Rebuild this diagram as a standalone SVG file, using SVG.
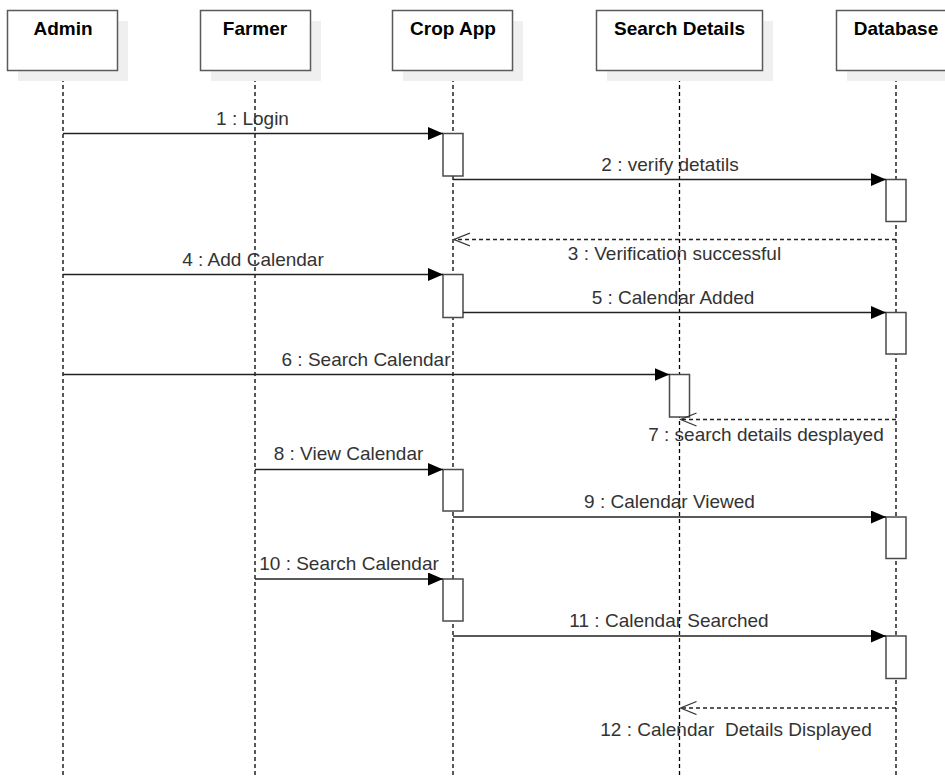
<svg xmlns="http://www.w3.org/2000/svg" width="945" height="778" viewBox="0 0 945 778">
<style>
.shadow{fill:#efefef;stroke:none}
.box{fill:#fff;stroke:#5a5a5a;stroke-width:1.5}
.hdr{font-family:"Liberation Sans",Arial,sans-serif;font-size:19px;font-weight:bold;fill:#000;text-anchor:middle}
.life{stroke:#000;stroke-width:1.3;stroke-dasharray:4 3;fill:none}
.act{fill:#fff;stroke:#4a4a4a;stroke-width:1.5}
.msg{stroke:#222;stroke-width:1.5;fill:none}
.ret{stroke:#222;stroke-width:1.3;stroke-dasharray:4 3;fill:none}
.lbl{font-family:"Liberation Sans",Arial,sans-serif;font-size:19px;fill:#333;text-anchor:middle}
</style>
<defs>
<marker id="block" markerUnits="userSpaceOnUse" markerWidth="16" markerHeight="14" refX="15" refY="6.5" orient="auto">
<path d="M0,0 L15,6.5 L0,13 z" fill="#000"/>
</marker>
<marker id="open" markerUnits="userSpaceOnUse" markerWidth="18" markerHeight="16" refX="16" refY="7" orient="auto">
<path d="M0,0.5 L16,7 L0,13.5" fill="none" stroke="#333" stroke-width="1.3"/>
</marker>
</defs>
<rect width="945" height="778" fill="#fff"/>

<g id="lifelines">
<line class="life" x1="63" y1="71" x2="63" y2="778"/>
<line class="life" x1="255" y1="71" x2="255" y2="778"/>
<line class="life" x1="453" y1="71" x2="453" y2="778"/>
<line class="life" x1="679.5" y1="71" x2="679.5" y2="778"/>
<line class="life" x1="896" y1="71" x2="896" y2="778"/>
</g>

<g id="admin">
<rect class="shadow" x="18" y="21" width="110" height="60"/>
<rect class="box" x="7.5" y="10.5" width="110" height="60"/>
<text class="hdr" x="63" y="35">Admin</text>
</g>
<g id="farmer">
<rect class="shadow" x="211" y="21" width="110" height="60"/>
<rect class="box" x="200.5" y="10.5" width="110" height="60"/>
<text class="hdr" x="255" y="35">Farmer</text>
</g>
<g id="cropapp">
<rect class="shadow" x="403" y="21" width="120" height="60"/>
<rect class="box" x="392.5" y="10.5" width="120" height="60"/>
<text class="hdr" x="453" y="35">Crop App</text>
</g>
<g id="searchdetails">
<rect class="shadow" x="607" y="21" width="166" height="60"/>
<rect class="box" x="596.5" y="10.5" width="166" height="60"/>
<text class="hdr" x="679.5" y="35">Search Details</text>
</g>
<g id="database">
<rect class="shadow" x="847" y="21" width="119" height="60"/>
<rect class="box" x="836.5" y="10.5" width="119" height="60"/>
<text class="hdr" x="896" y="35">Database</text>
</g>

<g id="activations">
<rect class="act" x="443" y="133.5" width="20" height="42.5"/>
<rect class="act" x="886" y="179.5" width="20" height="42"/>
<rect class="act" x="443" y="274.5" width="20" height="43"/>
<rect class="act" x="886" y="312.5" width="20" height="41.5"/>
<rect class="act" x="669.5" y="374.5" width="20" height="42.5"/>
<rect class="act" x="443" y="469.5" width="20" height="41.5"/>
<rect class="act" x="886" y="517" width="20" height="41.5"/>
<rect class="act" x="443" y="579" width="20" height="42"/>
<rect class="act" x="886" y="636" width="20" height="42.5"/>
</g>

<g id="connectors">
<line class="msg" x1="63" y1="133.5" x2="443" y2="133.5" marker-end="url(#block)"/>
<line class="msg" x1="453" y1="179.5" x2="886" y2="179.5" marker-end="url(#block)"/>
<line class="ret" x1="896" y1="239.5" x2="454" y2="239.5" marker-end="url(#open)"/>
<line class="msg" x1="63" y1="274.5" x2="443" y2="274.5" marker-end="url(#block)"/>
<line class="msg" x1="463" y1="312.5" x2="886" y2="312.5" marker-end="url(#block)"/>
<line class="msg" x1="63" y1="374.5" x2="669.5" y2="374.5" marker-end="url(#block)"/>
<line class="ret" x1="896" y1="419.5" x2="680.5" y2="419.5" marker-end="url(#open)"/>
<line class="msg" x1="255" y1="469.5" x2="443" y2="469.5" marker-end="url(#block)"/>
<line class="msg" x1="453" y1="517" x2="886" y2="517" marker-end="url(#block)"/>
<line class="msg" x1="255" y1="579" x2="443" y2="579" marker-end="url(#block)"/>
<line class="msg" x1="453" y1="636" x2="886" y2="636" marker-end="url(#block)"/>
<line class="ret" x1="896" y1="708" x2="680.5" y2="708" marker-end="url(#open)"/>
</g>

<g id="labels">
<text class="lbl" x="252.5" y="125">1 : Login</text>
<text class="lbl" x="670" y="170.5">2 : verify detatils</text>
<text class="lbl" x="674.5" y="260">3 : Verification successful</text>
<text class="lbl" x="253" y="265.5">4 : Add Calendar</text>
<text class="lbl" x="673" y="303.5">5 : Calendar Added</text>
<text class="lbl" x="366" y="365.5">6 : Search Calendar</text>
<text class="lbl" x="766" y="440.5">7 : search details desplayed</text>
<text class="lbl" x="348.5" y="460">8 : View Calendar</text>
<text class="lbl" x="669.5" y="508">9 : Calendar Viewed</text>
<text class="lbl" x="349" y="569.5">10 : Search Calendar</text>
<text class="lbl" x="669" y="627">11 : Calendar Searched</text>
<text class="lbl" x="736" y="735.5" xml:space="preserve">12 : Calendar  Details Displayed</text>
</g>
</svg>
